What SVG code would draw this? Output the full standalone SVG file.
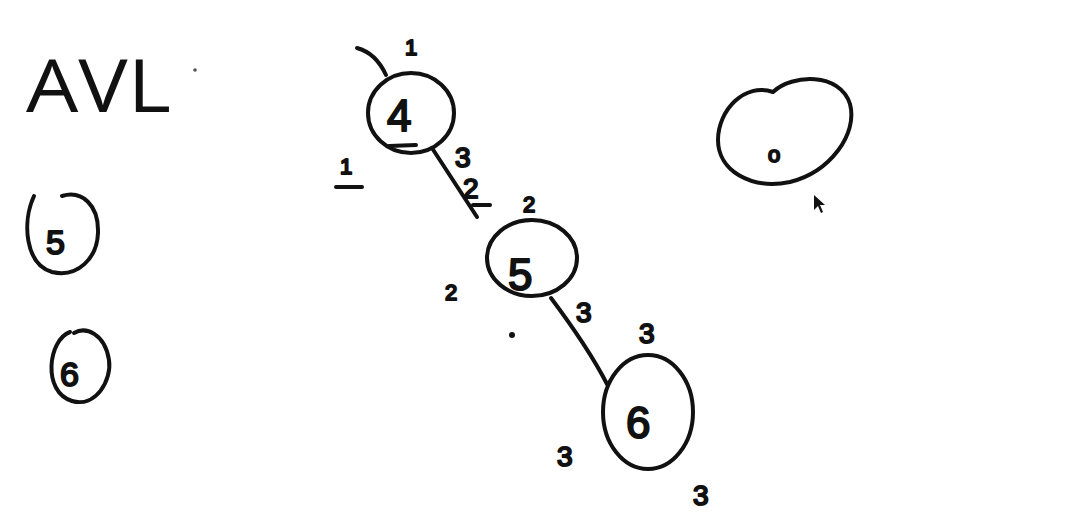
<svg xmlns="http://www.w3.org/2000/svg" width="1074" height="527" viewBox="0 0 1074 527">
<style>
.ink{fill:none;stroke:#111;stroke-width:4;stroke-linecap:round;stroke-linejoin:round}
.t{font-family:"Liberation Sans",Arial,sans-serif;fill:#111;stroke:#111;stroke-width:2;stroke-linejoin:round}
.num{font-size:28px}
.lbl{font-size:44px}
.sm{font-size:22px}
</style>
<rect width="1074" height="527" fill="#fff"/>
<g id="title">
<text x="26" y="112" font-family="Open Sans, Lato, sans-serif" font-weight="400" font-size="74" fill="#111" textLength="145" lengthAdjust="spacingAndGlyphs">AVL</text>
<circle cx="195" cy="70" r="1.8" fill="#555"/>
</g>
<g id="side5">
<path class="ink" d="M34 196 C22 222 25 264 52 272 C78 278 97 258 98 233 C99 205 82 190 62 196"/>
<text class="t" font-size="34" x="46" y="254">5</text>
</g>
<g id="side6">
<path class="ink" d="M70 332 C48 340 42 392 72 401 C96 408 112 380 109 360 C105 334 86 326 74 333"/>
<text class="t" font-size="34" x="60" y="386">6</text>
</g>
<g id="connectors">
<path class="ink" d="M432 148 L477 217"/>
<path class="ink" d="M551 298 C575 330 592 355 607 384"/>
</g>
<g id="node4">
<ellipse class="ink" cx="411" cy="113" rx="43" ry="40"/>
<text class="t lbl" x="387" y="131">4</text>
<path class="ink" d="M389 146 L416 145" stroke-width="6"/>
<path class="ink" d="M357 48 C372 52 380 62 386 75"/>
<text class="t sm" x="405" y="55">1</text>
</g>
<g id="node5">
<ellipse class="ink" cx="532" cy="258" rx="45" ry="38"/>
<text class="t lbl" x="508" y="290">5</text>
<text class="t sm" x="523" y="212">2</text>
</g>
<g id="node6">
<ellipse class="ink" cx="648" cy="412" rx="45" ry="57"/>
<text class="t lbl" x="626" y="438">6</text>
<text class="t num" x="639" y="343">3</text>
</g>
<g id="node0">
<path class="ink" d="M773 92 C792 74 840 72 850 104 C858 134 830 172 790 182 C750 190 718 170 718 140 C718 110 745 82 773 92 Z"/>
<text class="t sm" x="768" y="162">o</text>
<path d="M814 195 L814 210 L818 206 L821 213 L823 212 L820 205 L825 205 Z" fill="#111"/>
</g>
<g id="labels">
<text class="t sm" x="340" y="174">1</text>
<path class="ink" d="M336 187 L362 187" stroke-width="6"/>
<text class="t num" x="455" y="167">3</text>
<text class="t num" x="463" y="198">2</text>
<path class="ink" d="M473 205 L490 205" stroke-width="5"/>
<text class="t sm" x="445" y="300">2</text>
<circle cx="512" cy="335" r="3" fill="#111"/>
<text class="t num" x="576" y="322">3</text>
<text class="t num" x="557" y="466">3</text>
<text class="t num" x="693" y="505">3</text>
</g>
</svg>
